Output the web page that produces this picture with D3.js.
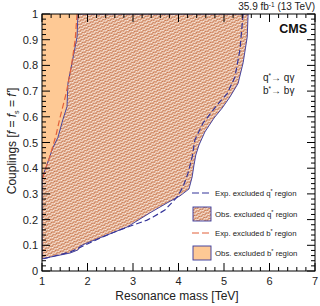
<!DOCTYPE html>
<html>
<head>
<script src="https://d3js.org/d3.v7.min.js"></script>
<style>
body { margin:0; background:#fff; }
text { font-family: "Liberation Sans", Arial, sans-serif; }
</style>
</head>
<body>
<svg width="320" height="306"></svg>
<script>
// observed q* excluded region boundary [mass TeV, coupling]
var obsQ = [[5.53,1.0],[5.51,0.91],[5.42,0.81],[5.31,0.73],[5.13,0.677],[4.96,0.634],[4.78,0.595],
  [4.58,0.541],[4.45,0.49],[4.38,0.451],[4.34,0.412],[4.30,0.366],[4.23,0.319],[4.03,0.292],
  [3.75,0.265],[3.37,0.226],[2.87,0.171],[2.43,0.140],[1.99,0.109],[1.84,0.097],[1.79,0.082],
  [1.62,0.070],[1.18,0.054],[1.0,0.047],[1.0,0.36],[1.24,0.48],[1.35,0.52],[1.46,0.59],
  [1.55,0.64],[1.57,0.73],[1.66,0.81],[1.77,0.91],[1.79,1.0]];
// expected q* limit
var expQ = [[5.42,1.0],[5.35,0.86],[5.24,0.755],[5.07,0.69],[4.85,0.646],[4.54,0.576],[4.36,0.51],
  [4.30,0.444],[4.21,0.381],[4.10,0.327],[3.97,0.288],[3.70,0.237],[3.44,0.21],[3.31,0.198],
  [2.71,0.16],[2.27,0.128],[1.95,0.101],[1.62,0.074],[1.18,0.054],[1.0,0.047]];
// observed b* excluded region boundary
var obsB = [[1.0,0.36],[1.24,0.48],[1.35,0.52],[1.46,0.59],[1.55,0.64],[1.57,0.73],[1.66,0.81],
  [1.77,0.91],[1.79,1.0],[1.0,1.0]];
// expected b* limit
var expB = [[1.77,1.0],[1.73,0.90],[1.64,0.79],[1.53,0.69],[1.40,0.60],[1.31,0.53],[1.18,0.45],[1.0,0.354]];

var xTicks = [1,2,3,4,5,6,7];
var yTicks = [0,0.1,0.2,0.3,0.4,0.5,0.6,0.7,0.8,0.9,1];
var legendItems = ["Exp. excluded q* region","Obs. excluded q* region","Exp. excluded b* region","Obs. excluded b* region"];

var L = 42, R = 315, T = 14, B = 271;
var svg = d3.select("svg");
var x = d3.scaleLinear().domain([1,7]).range([L,R]);
var y = d3.scaleLinear().domain([0,1]).range([B,T]);

var blue = "#35359a", orange = "#fec995", red = "#e2603a", hatchCol = "#c7744a";

var defs = svg.append("defs");
var pat = defs.append("pattern").attr("id","hatch").attr("patternUnits","userSpaceOnUse")
  .attr("width",4).attr("height",3).attr("patternTransform","rotate(-25)");
pat.append("rect").attr("width",4).attr("height",3).attr("fill","#fdeee2");
pat.append("path").attr("d","M-1,2.5 L1,1 L3,2.5 L5,1").attr("fill","none")
  .attr("stroke",hatchCol).attr("stroke-width",1.1);

var clip = defs.append("clipPath").attr("id","box");
clip.append("rect").attr("x",L).attr("y",T).attr("width",R-L).attr("height",B-T);

var line = d3.line().x(function(d){return x(d[0]);}).y(function(d){return y(d[1]);});
var g = svg.append("g").attr("clip-path","url(#box)");

g.append("path").attr("d", line(obsB)+"Z").attr("fill",orange).attr("stroke","none");
g.append("path").attr("d", line(obsQ)+"Z").attr("fill","url(#hatch)").attr("stroke",blue).attr("stroke-width",0.9);
g.append("path").attr("d", line(expB)).attr("fill","none").attr("stroke",red).attr("stroke-width",1.2).attr("stroke-dasharray","6,3");
g.append("path").attr("d", line(expQ)).attr("fill","none").attr("stroke",blue).attr("stroke-width",1.2).attr("stroke-dasharray","6,3");

// frame
svg.append("rect").attr("x",L).attr("y",T).attr("width",R-L).attr("height",B-T)
  .attr("fill","none").attr("stroke","#000").attr("stroke-width",1);

// ticks (inward, all four sides)
var xMinor = d3.range(1,7.001,0.2);
var yMinor = d3.range(0,1.001,0.02);
var tk = svg.append("g").attr("stroke","#000").attr("stroke-width",1);
xMinor.forEach(function(v){
  var major = Math.abs(v-Math.round(v))<1e-6, len = major?8:4;
  tk.append("line").attr("x1",x(v)).attr("x2",x(v)).attr("y1",B).attr("y2",B-len);
  tk.append("line").attr("x1",x(v)).attr("x2",x(v)).attr("y1",T).attr("y2",T+len);
});
yMinor.forEach(function(v){
  var major = Math.abs(v*10-Math.round(v*10))<1e-6, len = major?8:4;
  tk.append("line").attr("y1",y(v)).attr("y2",y(v)).attr("x1",L).attr("x2",L+len);
  tk.append("line").attr("y1",y(v)).attr("y2",y(v)).attr("x1",R).attr("x2",R-len);
});

svg.selectAll("text.xt").data(xTicks).enter().append("text").attr("class","xt")
  .attr("x",function(d){return x(d);}).attr("y",B+14).attr("text-anchor","middle")
  .attr("font-size",11).attr("fill","#222").text(function(d){return d;});
svg.selectAll("text.yt").data(yTicks).enter().append("text").attr("class","yt")
  .attr("x",L-4).attr("y",function(d){return y(d)+4;}).attr("text-anchor","end")
  .attr("font-size",11).attr("fill","#222").text(function(d){return d;});

svg.append("text").attr("x",177).attr("y",300).attr("text-anchor","middle").attr("font-size",12)
  .attr("fill","#222").text("Resonance mass [TeV]");

var yl = svg.append("text").attr("transform","translate(16,141) rotate(-90)")
  .attr("text-anchor","middle").attr("font-size",12).attr("fill","#222");
yl.append("tspan").text("Couplings [");
yl.append("tspan").attr("font-style","italic").text("f");
yl.append("tspan").text(" = ");
yl.append("tspan").attr("font-style","italic").text("f");
yl.append("tspan").attr("font-size",7).attr("dy",3).text("s");
yl.append("tspan").attr("dy",-3).text(" = ");
yl.append("tspan").attr("font-style","italic").text("f'");
yl.append("tspan").text("]");

var lumi = svg.append("text").attr("x",R).attr("y",10).attr("text-anchor","end").attr("font-size",10).attr("fill","#222");
lumi.append("tspan").text("35.9 fb");
lumi.append("tspan").attr("font-size",6.5).attr("dy",-3.5).text("-1");
lumi.append("tspan").attr("dy",3.5).text(" (13 TeV)");

svg.append("text").attr("x",307).attr("y",33).attr("text-anchor","end").attr("font-size",12.5)
  .attr("font-weight","bold").attr("fill","#111").text("CMS");

function decay(txt, a, yy){
  var t = svg.append("text").attr("x",263).attr("y",yy).attr("font-size",10).attr("fill","#222");
  t.append("tspan").text(a);
  t.append("tspan").attr("font-size",6.5).attr("dy",-3.5).text("*");
  t.append("tspan").attr("dy",3.5).text("\u2192 " + txt);
}
decay("q\u03b3","q",81);
decay("b\u03b3","b",94);

// legend
var ly = [193, 214, 233, 253];
legendItems.forEach(function(s,i){
  if (i%2===0) {
    svg.append("line").attr("x1",192).attr("x2",210).attr("y1",ly[i]).attr("y2",ly[i])
      .attr("stroke", i===0?blue:red).attr("stroke-width",1.2).attr("stroke-dasharray","7,3");
  } else {
    svg.append("rect").attr("x",193).attr("y",ly[i]-7).attr("width",18).attr("height",14)
      .attr("fill", i===1?"url(#hatch)":orange).attr("stroke",blue).attr("stroke-width",0.9);
  }
  var parts = s.split("*");
  var t = svg.append("text").attr("x",215).attr("y",ly[i]+2.5).attr("font-size",7.8).attr("fill","#222");
  t.append("tspan").text(parts[0]);
  t.append("tspan").attr("font-size",5.5).attr("dy",-2.5).text("*");
  t.append("tspan").attr("dy",2.5).text(parts[1]);
});
</script>
</body>
</html>
